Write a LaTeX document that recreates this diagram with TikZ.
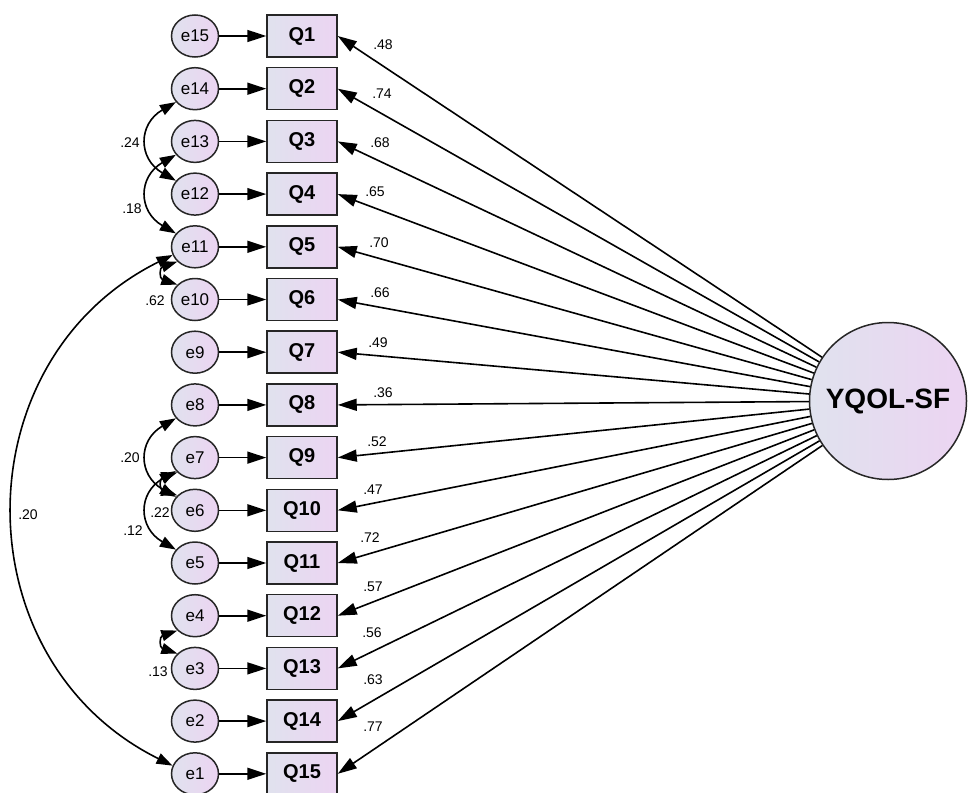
\documentclass[tikz,border=0pt]{standalone}
\usepackage{fontspec}
\setmainfont{Liberation Sans}
\usetikzlibrary{arrows.meta,shapes.geometric}
\definecolor{fillA}{RGB}{224,226,238}
\definecolor{fillB}{RGB}{236,212,242}
\begin{document}
\begin{tikzpicture}[x=1pt,y=-1pt,
  err/.style={ellipse,draw=black!85,line width=1.5pt,minimum width=47pt,minimum height=42pt,inner sep=0pt,left color=fillA,right color=fillB,font=\fontsize{17}{17}\selectfont},
  obs/.style={rectangle,draw=black!85,line width=1.5pt,minimum width=70pt,minimum height=42pt,inner sep=0pt,left color=fillA,right color=fillB,font=\fontsize{20}{20}\selectfont\bfseries},
  lat/.style={circle,draw=black!85,line width=1.5pt,minimum size=157pt,inner sep=0pt,left color=fillA,right color=fillB,font=\fontsize{28}{28}\selectfont\bfseries},
  arr/.style={-{Triangle[length=19pt,width=12pt]},line width=1.6pt},
  cov/.style={{Triangle[length=16pt,width=11pt]}-{Triangle[length=16pt,width=11pt]},line width=1.6pt},
  lbl/.style={font=\fontsize{14}{14}\selectfont,inner sep=0pt}]
\useasboundingbox (0,0) rectangle (971,792);
\foreach \i in {1,...,15}{
  \pgfmathtruncatemacro\j{16-\i}
  \pgfmathsetmacro\yy{36+52.7*(\i-1)}
  \node[err] (e\j) at (195,\yy) {e\j};
  \node[obs] (Q\i) at (302,\yy) {Q\i};
  \draw[arr] (e\j) -- (Q\i);
}
\node[lat] (Y) at (888,401) {YQOL-SF};
\foreach \i in {1,...,15} \draw[arr] (Y) -- (Q\i.east);
\foreach \i/\v/\lx/\ly in {1/.48/383/45, 2/.74/382/94, 3/.68/380/143, 4/.65/375/192, 5/.70/379/243, 6/.66/380/293, 7/.49/378/343, 8/.36/383/393, 9/.52/377/442, 10/.47/373/490, 11/.72/370/538, 12/.57/373/587, 13/.56/372/633, 14/.63/373/680, 15/.77/373/727}
  \node[lbl] (L\i) at (\lx,\ly) {\v};
% covariances
\draw[cov] (e14.215) .. controls +(-38,22) and +(-38,-22) .. (e12.145);
\draw[cov] (e13.215) .. controls +(-38,22) and +(-38,-22) .. (e11.145);
\draw[cov] (e11.220) .. controls +(-18,6) and +(-18,-6) .. (e10.140);
\draw[cov] (e11.200) .. controls +(-212,105) and +(-212,-105) .. (e1.160);
\draw[cov] (e8.215) .. controls +(-38,22) and +(-38,-22) .. (e6.145);
\draw[cov] (e7.220) .. controls +(-18,6) and +(-18,-6) .. (e6.140);
\draw[cov] (e7.215) .. controls +(-38,22) and +(-38,-22) .. (e5.145);
\draw[cov] (e4.220) .. controls +(-18,6) and +(-18,-6) .. (e3.140);
\node[lbl] (c1) at (130,143) {.24};
\node[lbl] (c2) at (132,209) {.18};
\node[lbl] (c3) at (155,301) {.62};
\node[lbl] (c4) at (28,515) {.20};
\node[lbl] (c5) at (130,458) {.20};
\node[lbl] (c6) at (160,513) {.22};
\node[lbl] (c7) at (133,531) {.12};
\node[lbl] (c8) at (158,672) {.13};
\end{tikzpicture}
\end{document}
